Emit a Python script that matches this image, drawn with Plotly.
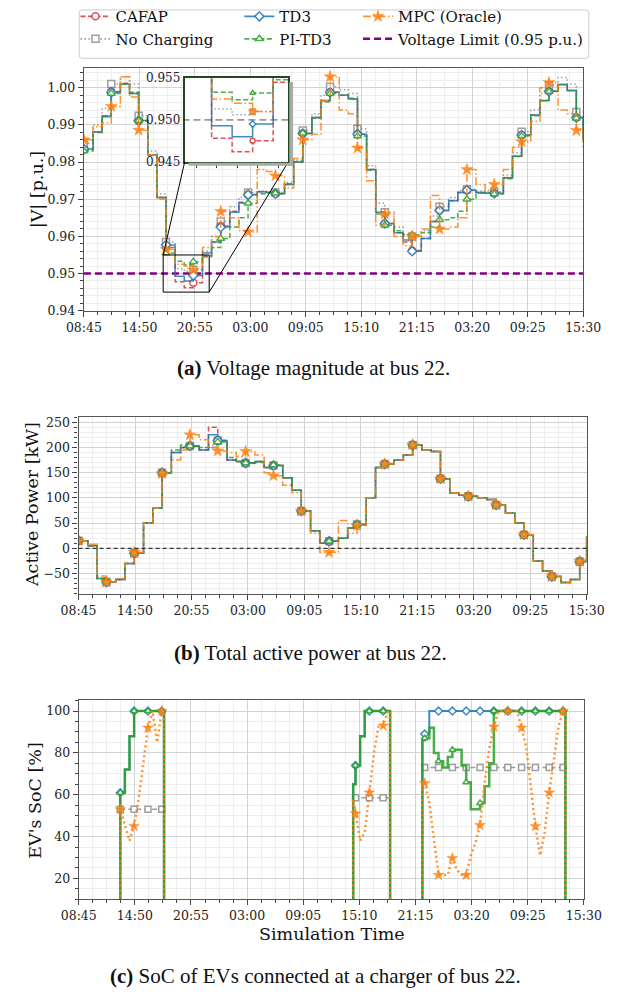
import pandas as pd
import plotly.graph_objects as go

# ---------------- data ----------------
# hours after 08:45 on day 1 (hourly samples, last one at 15:30 on day 3)
T_HOURS = list(range(55)) + [54.75]
TICK_LABELS = ["08:45", "14:50", "20:55", "03:00", "09:05", "15:10", "21:15", "03:20", "09:25", "15:30"]

V_NO_CHARGING = [0.9850, 0.9900, 0.9945, 1.0010, 1.0030, 1.0010, 0.9925, 0.9830, 0.9715, 0.9585,
                 0.9513, 0.9506, 0.9510, 0.9560, 0.9600, 0.9640, 0.9680, 0.9705, 0.9718, 0.9722,
                 0.9720, 0.9718, 0.9745, 0.9805, 0.9885, 0.9930, 0.9980, 1.0003, 0.9995, 0.9985,
                 0.9890, 0.9790, 0.9690, 0.9665, 0.9625, 0.9605, 0.9600, 0.9615, 0.9655, 0.9680,
                 0.9705, 0.9722, 0.9727, 0.9722, 0.9720, 0.9720, 0.9765, 0.9825, 0.9882, 0.9940,
                 0.9985, 1.0007, 1.0028, 1.0010, 0.9935, 0.9870]
V_CAFAP = [0.9835, 0.9880, 0.9925, 0.9990, 1.0012, 0.9985, 0.9910, 0.9820, 0.9705, 0.9570,
           0.9478, 0.9462, 0.9475, 0.9545, 0.9585, 0.9628, 0.9668, 0.9692, 0.9713, 0.9720,
           0.9718, 0.9715, 0.9740, 0.9800, 0.9877, 0.9920, 0.9966, 0.9988, 0.9980, 0.9970,
           0.9875, 0.9780, 0.9665, 0.9635, 0.9610, 0.9585, 0.9562, 0.9594, 0.9640, 0.9670,
           0.9696, 0.9718, 0.9724, 0.9718, 0.9716, 0.9716, 0.9758, 0.9816, 0.9873, 0.9927,
           0.9966, 0.9991, 1.0009, 0.9993, 0.9920, 0.9860]
V_TD3 = [0.9835, 0.9882, 0.9922, 0.9988, 1.0010, 0.9985, 0.9912, 0.9820, 0.9705, 0.9577,
         0.9493, 0.9480, 0.9495, 0.9555, 0.9585, 0.9625, 0.9665, 0.9690, 0.9712, 0.9720,
         0.9718, 0.9715, 0.9740, 0.9800, 0.9877, 0.9920, 0.9966, 0.9988, 0.9980, 0.9970,
         0.9875, 0.9780, 0.9665, 0.9635, 0.9610, 0.9590, 0.9560, 0.9594, 0.9640, 0.9670,
         0.9696, 0.9718, 0.9724, 0.9718, 0.9716, 0.9716, 0.9758, 0.9816, 0.9873, 0.9927,
         0.9966, 0.9991, 1.0009, 0.9993, 0.9920, 0.9860]
V_PI_TD3 = [0.9830, 0.9882, 0.9925, 0.9985, 1.0010, 0.9988, 0.9912, 0.9818, 0.9705, 0.9555,
            0.9533, 0.9524, 0.9532, 0.9548, 0.9570, 0.9594, 0.9625, 0.9650, 0.9689, 0.9715,
            0.9718, 0.9716, 0.9742, 0.9800, 0.9878, 0.9918, 0.9962, 0.9985, 0.9980, 0.9972,
            0.9870, 0.9778, 0.9660, 0.9630, 0.9615, 0.9605, 0.9604, 0.9610, 0.9625, 0.9645,
            0.9650, 0.9668, 0.9700, 0.9716, 0.9716, 0.9714, 0.9755, 0.9815, 0.9870, 0.9925,
            0.9965, 0.9990, 1.0008, 0.9993, 0.9918, 0.9855]
V_MPC = [0.9860, 0.9895, 0.9905, 0.9950, 1.0030, 0.9975, 0.9886, 0.9820, 0.9700, 0.9565,
         0.9525, 0.9520, 0.9510, 0.9570, 0.9600, 0.9667, 0.9650, 0.9615, 0.9612, 0.9780,
         0.9775, 0.9763, 0.9730, 0.9810, 0.9860, 0.9875, 0.9965, 1.0030, 0.9940, 0.9930,
         0.9838, 0.9750, 0.9630, 0.9660, 0.9600, 0.9575, 0.9600, 0.9620, 0.9710, 0.9620,
         0.9625, 0.9650, 0.9780, 0.9740, 0.9725, 0.9740, 0.9780, 0.9840, 0.9855, 0.9910,
         1.0000, 1.0014, 0.9940, 0.9930, 0.9885, 0.9840]
VOLTAGE_LIMIT = 0.95

P_NO_CHARGING = [15, 5, -60, -67, -62, -30, -10, 50, 80, 150,
                 190, 200, 203, 195, 205, 214, 175, 172, 169, 172,
                 160, 164, 140, 115, 74, 35, 10, 14, 20, 40,
                 47, 100, 160, 167, 175, 185, 205, 195, 192, 138,
                 110, 105, 103, 100, 97, 86, 70, 50, 27, -25,
                 -45, -56, -68, -62, -26, 24]
P_CAFAP = [15, 5, -60, -67, -62, -30, -10, 50, 80, 150,
           190, 200, 203, 195, 240, 214, 175, 172, 169, 172,
           160, 164, 140, 115, 74, 35, 10, 14, 20, 40,
           47, 100, 160, 167, 175, 185, 205, 195, 192, 138,
           110, 105, 103, 100, 97, 86, 70, 50, 27, -25,
           -45, -56, -68, -62, -26, 24]
P_TD3 = [15, 5, -60, -67, -62, -30, -10, 50, 80, 150,
         190, 200, 203, 195, 225, 214, 175, 172, 169, 172,
         160, 164, 140, 115, 74, 35, 10, 14, 20, 40,
         47, 100, 160, 167, 175, 185, 205, 195, 192, 138,
         110, 105, 103, 100, 97, 86, 70, 50, 27, -25,
         -45, -56, -68, -62, -26, 24]
P_PI_TD3 = [15, 5, -60, -67, -62, -30, -10, 50, 80, 150,
            195, 205, 203, 200, 200, 211, 180, 172, 169, 170,
            160, 165, 140, 115, 74, 35, 10, 14, 20, 40,
            47, 100, 160, 167, 175, 185, 205, 195, 192, 138,
            110, 105, 103, 100, 97, 86, 70, 50, 27, -25,
            -45, -56, -68, -62, -26, 24]
P_MPC = [15, 8, -55, -67, -60, -30, -8, 50, 80, 148,
         175, 195, 225, 215, 200, 193, 190, 182, 192, 185,
         150, 144, 125, 110, 74, 30, -8, -8, 55, 30,
         45, 100, 160, 167, 175, 185, 205, 195, 192, 138,
         110, 105, 103, 100, 97, 86, 70, 50, 27, -25,
         -45, -56, -68, -62, -26, 24]

# EV charging sessions (hours after 08:45 day 1, 30-min samples)
S1_T = [4.5, 5.0, 5.5, 6.0, 6.5, 7.0, 7.5, 8.0, 8.5, 9.0, 9.25]
S2_T = [29.75, 30.0, 30.5, 31.0, 31.5, 32.0, 32.5, 33.0, 33.5, 33.75]
S3_T = [37.25, 37.5, 38.0, 38.5, 39.0, 39.5, 40.0, 40.5, 41.0, 41.5, 42.0, 42.5, 43.0, 43.5,
        44.0, 44.5, 45.0, 45.5, 46.0, 46.5, 47.0, 47.5, 48.0, 48.5, 49.0, 49.5, 50.0, 50.5,
        51.0, 51.5, 52.0, 52.5, 52.75]
NO_EV_SOC = 0

SOC_NO_CHARGING_S1 = [53, 53, 53, 53, 53, 53, 53, 53, 53, 53, 53]
SOC_NO_CHARGING_S2 = [58.5, 58.5, 58.5, 58.5, 58.5, 58.5, 58.5, 58.5, 58.5, 58.5]
SOC_NO_CHARGING_S3 = [73, 73, 73, 73, 73, 73, 73, 73, 73, 73, 73, 73, 73, 73, 73, 73, 73,
                      73, 73, 73, 73, 73, 73, 73, 73, 73, 73, 73, 73, 73, 73, 73, 73]
SOC_TD3_S1 = [61, 72, 88, 100, 100, 100, 100, 100, 100, 100, 100]
SOC_TD3_S2 = [65, 74, 88, 100, 100, 100, 100, 100, 100, 100]
SOC_TD3_S3 = [87, 89, 100, 100, 100, 100, 100, 100, 100, 100, 100, 100, 100, 100, 100, 100, 100,
              100, 100, 100, 100, 100, 100, 100, 100, 100, 100, 100, 100, 100, 100, 100, 100]
SOC_PI_TD3_S1 = [61, 72, 88, 100, 100, 100, 100, 100, 100, 100, 100]
SOC_PI_TD3_S2 = [65, 74, 88, 100, 100, 100, 100, 100, 100, 100]
SOC_PI_TD3_S3 = [86, 87, 92, 80, 76, 73, 78, 81.5, 81.5, 74, 66, 53, 53, 56, 64, 75, 100,
                 100, 100, 100, 100, 100, 100, 100, 100, 100, 100, 100, 100, 100, 100, 100, 100]
SOC_MPC_S1 = [53, 45, 38, 45, 58, 75, 92, 100, 85, 100, 100]
SOC_MPC_S2 = [58, 51, 38, 42, 61, 80, 93, 93, 100, 100]
SOC_MPC_S3 = [66, 65.5, 56, 38, 21.6, 21.6, 21.6, 29.7, 24, 21.6, 21.6, 31, 37, 45.4, 66, 82, 92.5,
              100, 100, 100, 100, 100, 92, 83, 64, 45, 31, 42, 61, 77, 92.5, 100, 100]

for arr in (V_NO_CHARGING, V_CAFAP, V_TD3, V_PI_TD3, V_MPC, P_NO_CHARGING, P_CAFAP, P_TD3, P_PI_TD3, P_MPC):
    assert len(arr) == len(T_HOURS), len(arr)

# ---------------- helpers ----------------
W, H = 620, 1000
BASE = pd.Timestamp("2024-01-01 08:45")
T_END = 54.75
MAJOR_MS = 365 * 60 * 1000


def tt(hs):
    return [None if h is None else BASE + pd.Timedelta(hours=h) for h in hs]


def PX(x):
    return x / W


def PY(y):
    return 1 - y / H


FONT = "DejaVu Serif, serif"
CAP_FONT = "Liberation Serif, serif"

STY = {
    "No Charging": dict(color="rgba(127,127,127,0.75)", dash="1.5px,2.5px", symbol="square", legend="legend"),
    "CAFAP": dict(color="rgba(214,39,40,0.8)", dash="5px,2.5px", symbol="circle", legend="legend"),
    "TD3": dict(color="rgba(31,119,180,0.85)", dash="solid", symbol="diamond", legend="legend2"),
    "PI-TD3": dict(color="rgba(44,160,44,0.85)", dash="5px,2.5px", symbol="triangle-up", legend="legend2"),
    "MPC (Oracle)": dict(color="rgba(255,127,14,0.85)", dash="8px,2.5px,1.5px,2.5px", symbol="star", legend="legend3"),
}
DRAW_ORDER = ["No Charging", "CAFAP", "TD3", "PI-TD3", "MPC (Oracle)"]
V_DATA = {"No Charging": V_NO_CHARGING, "CAFAP": V_CAFAP, "TD3": V_TD3, "PI-TD3": V_PI_TD3, "MPC (Oracle)": V_MPC}
P_DATA = {"No Charging": P_NO_CHARGING, "CAFAP": P_CAFAP, "TD3": P_TD3, "PI-TD3": P_PI_TD3, "MPC (Oracle)": P_MPC}
SOC_DATA = {
    "No Charging": [SOC_NO_CHARGING_S1, SOC_NO_CHARGING_S2, SOC_NO_CHARGING_S3],
    "TD3": [SOC_TD3_S1, SOC_TD3_S2, SOC_TD3_S3],
    "PI-TD3": [SOC_PI_TD3_S1, SOC_PI_TD3_S2, SOC_PI_TD3_S3],
    "MPC (Oracle)": [SOC_MPC_S1, SOC_MPC_S2, SOC_MPC_S3],
}
SESSIONS_T = [S1_T, S2_T, S3_T]


def mk(name, size):
    s = STY[name]
    if name == "MPC (Oracle)":
        return dict(symbol="star", size=size + 2, color=s["color"], line=dict(width=0.5, color=s["color"]))
    return dict(symbol=s["symbol"], size=size, color="white", line=dict(width=1.5, color=s["color"]))


fig = go.Figure()

# ---------- legend entries ----------
for name in ["CAFAP", "No Charging", "TD3", "PI-TD3", "MPC (Oracle)"]:
    s = STY[name]
    fig.add_trace(go.Scatter(x=[None], y=[None], mode="lines+markers", name=name,
                             line=dict(color=s["color"], dash=s["dash"], width=1.8),
                             marker=mk(name, 7), legend=s["legend"], xaxis="x", yaxis="y"))
fig.add_trace(go.Scatter(x=[None], y=[None], mode="lines", name="Voltage Limit (0.95 p.u.)",
                         line=dict(color="#800080", dash="7px,4px", width=2.5), legend="legend3",
                         xaxis="x", yaxis="y"))

mark_idx = [i for i, h in enumerate(T_HOURS) if h % 3 == 0]

# ---------- panel (a) + inset ----------
for xa, ya, limcol in (("x", "y", "#800080"), ("x4", "y4", "#999999")):
    fig.add_trace(go.Scatter(x=tt([0, T_END]), y=[VOLTAGE_LIMIT, VOLTAGE_LIMIT], mode="lines",
                             line=dict(color=limcol, dash="7px,4px", width=2.5 if xa == "x" else 1.8),
                             showlegend=False, xaxis=xa, yaxis=ya, hoverinfo="skip"))
    for name in DRAW_ORDER:
        s = STY[name]
        vals = V_DATA[name]
        fig.add_trace(go.Scatter(x=tt(T_HOURS), y=vals, mode="lines", line_shape="hv",
                                 line=dict(color=s["color"], dash=s["dash"], width=1.5),
                                 showlegend=False, xaxis=xa, yaxis=ya))
        fig.add_trace(go.Scatter(x=tt([T_HOURS[i] for i in mark_idx]), y=[vals[i] for i in mark_idx],
                                 mode="markers", marker=mk(name, 7 if xa == "x" else 5),
                                 showlegend=False, xaxis=xa, yaxis=ya))

# ---------- panel (b) ----------
for name in DRAW_ORDER:
    s = STY[name]
    vals = P_DATA[name]
    fig.add_trace(go.Scatter(x=tt(T_HOURS), y=vals, mode="lines", line_shape="hv",
                             line=dict(color=s["color"], dash=s["dash"], width=1.5),
                             showlegend=False, xaxis="x2", yaxis="y2"))
    fig.add_trace(go.Scatter(x=tt([T_HOURS[i] for i in mark_idx]), y=[vals[i] for i in mark_idx],
                             mode="markers", marker=mk(name, 7),
                             showlegend=False, xaxis="x2", yaxis="y2"))

# ---------- panel (c) ----------
C_WIDTH = {"No Charging": 1.5, "TD3": 2.0, "PI-TD3": 2.5, "MPC (Oracle)": 2.5}
C_DASH = {"No Charging": "5px,3px", "TD3": "solid", "PI-TD3": "solid", "MPC (Oracle)": "2px,3px"}
for name in ["No Charging", "TD3", "PI-TD3", "MPC (Oracle)"]:
    s = STY[name]
    xs, ys, mx, my = [], [], [], []
    if name == "No Charging":
        for tlist, vlist in zip(SESSIONS_T, SOC_DATA[name]):
            xs += tlist + [None]
            ys += vlist + [None]
    else:
        xs, ys = [0.0], [NO_EV_SOC]
        for tlist, vlist in zip(SESSIONS_T, SOC_DATA[name]):
            xs += [tlist[0]] + tlist + [tlist[-1]]
            ys += [NO_EV_SOC] + vlist + [NO_EV_SOC]
        xs += [T_END]
        ys += [NO_EV_SOC]
    for tlist, vlist in zip(SESSIONS_T, SOC_DATA[name]):
        for t, v in zip(tlist, vlist):
            if abs(t / 1.5 - round(t / 1.5)) < 1e-9:
                mx.append(t)
                my.append(v)
    fig.add_trace(go.Scatter(x=tt(xs), y=ys, mode="lines",
                             line_shape="linear" if name == "MPC (Oracle)" else "hv",
                             line=dict(color=s["color"], dash=C_DASH[name], width=C_WIDTH[name]),
                             connectgaps=False, showlegend=False, xaxis="x3", yaxis="y3"))
    fig.add_trace(go.Scatter(x=tt(mx), y=my, mode="markers", marker=mk(name, 6),
                             showlegend=False, xaxis="x3", yaxis="y3"))

# ---------------- layout ----------------
DOM_A_X, DOM_A_Y = [PX(70), PX(600)], [PY(308), PY(62)]
DOM_B_X, DOM_B_Y = [PX(64.3), PX(603.7)], [PY(595), PY(416)]
DOM_C_X, DOM_C_Y = [PX(64.5), PX(600.7)], [PY(905), PY(703)]
DOM_I_X, DOM_I_Y = [PX(177), PX(287)], [PY(157), PY(72)]
YA = [0.94, 1.0053]
INSET_H = [8.69, 13.74]
INSET_V = [0.945, 0.955]

FRAME = dict(showline=True, mirror=True, linecolor="#555555", linewidth=1.3, zeroline=False,
             ticks="outside", ticklen=5, tickwidth=1, tickcolor="#444444",
             showgrid=True, gridcolor="#d3d3d3", gridwidth=1,
             tickfont=dict(family=FONT, size=12.5, color="#222222"))


def xcfg(domain, anchor):
    return dict(domain=domain, anchor=anchor, type="date", range=tt([0, T_END]),
                tickmode="linear", tick0=BASE.strftime("%Y-%m-%d %H:%M"), dtick=MAJOR_MS,
                tickformat="%H:%M", ticklabeloverflow="allow",
                minor=dict(tick0=BASE.strftime("%Y-%m-%d %H:%M"), dtick=MAJOR_MS / 4, ticks="outside",
                           ticklen=3, tickcolor="#444444", showgrid=True, gridcolor="#eeeeee", gridwidth=0.8),
                **FRAME)


def ycfg(domain, anchor, rng, dtick, minor, fmt=None, tick0=0):
    d = dict(domain=domain, anchor=anchor, range=rng, tickmode="linear", tick0=tick0, dtick=dtick,
             minor=dict(tick0=tick0, dtick=minor, ticks="outside", ticklen=3, tickcolor="#444444",
                        showgrid=True, gridcolor="#eeeeee", gridwidth=0.8),
             **FRAME)
    if fmt:
        d["tickformat"] = fmt
    return d


leg_common = dict(orientation="v", xanchor="left", yanchor="top", bgcolor="rgba(0,0,0,0)",
                  borderwidth=0, font=dict(family=FONT, size=15, color="#111111"), tracegroupgap=0)


def a_px(h):
    return DOM_A_X[0] + h / T_END * (DOM_A_X[1] - DOM_A_X[0])


def a_py(v):
    return DOM_A_Y[0] + (v - YA[0]) / (YA[1] - YA[0]) * (DOM_A_Y[1] - DOM_A_Y[0])


r = 3
lx0, lx1, ly0, ly1 = 65, 606, 3, 52
legend_box = (f"M{PX(lx0 + r)},{PY(ly0)} L{PX(lx1 - r)},{PY(ly0)} Q{PX(lx1)},{PY(ly0)} {PX(lx1)},{PY(ly0 + r)} "
              f"L{PX(lx1)},{PY(ly1 - r)} Q{PX(lx1)},{PY(ly1)} {PX(lx1 - r)},{PY(ly1)} "
              f"L{PX(lx0 + r)},{PY(ly1)} Q{PX(lx0)},{PY(ly1)} {PX(lx0)},{PY(ly1 - r)} "
              f"L{PX(lx0)},{PY(ly0 + r)} Q{PX(lx0)},{PY(ly0)} {PX(lx0 + r)},{PY(ly0)} Z")

shapes = [
    dict(type="path", path=legend_box, xref="paper", yref="paper", line=dict(color="#cccccc", width=1),
         fillcolor="white", layer="below"),
    # zoom rectangle
    dict(type="rect", xref="x", yref="y", x0=tt([INSET_H[0]])[0], x1=tt([INSET_H[1]])[0],
         y0=INSET_V[0], y1=INSET_V[1], line=dict(color="black", width=1), layer="above"),
    # connectors
    dict(type="line", xref="paper", yref="paper", x0=a_px(INSET_H[0]), y0=a_py(INSET_V[1]),
         x1=DOM_I_X[0], y1=DOM_I_Y[0], line=dict(color="black", width=1), layer="above"),
    dict(type="line", xref="paper", yref="paper", x0=a_px(INSET_H[1]), y0=a_py(INSET_V[0]),
         x1=DOM_I_X[1], y1=DOM_I_Y[0], line=dict(color="black", width=1), layer="above"),
    # inset shadow
    dict(type="rect", xref="paper", yref="paper", x0=PX(288), x1=PX(292), y0=PY(161), y1=PY(76),
         fillcolor="#aaaaaa", line=dict(width=0), layer="above"),
    dict(type="rect", xref="paper", yref="paper", x0=PX(181), x1=PX(292), y0=PY(161), y1=PY(158),
         fillcolor="#aaaaaa", line=dict(width=0), layer="above"),
    # zero line panel b
    dict(type="line", xref="x2 domain", yref="y2", x0=0, x1=1, y0=0, y1=0,
         line=dict(color="#333333", width=1.3, dash="4px,3px"), layer="above"),
]

TITLE_FONT = dict(family=FONT, size=17.5, color="#111111")
CAP = dict(family=CAP_FONT, size=21, color="#111111")
annotations = [
    dict(text="|V| [p.u.]", x=PX(21), y=PY(185), textangle=-90, font=TITLE_FONT),
    dict(text="Active Power [kW]", x=PX(15), y=PY(505), textangle=-90, font=TITLE_FONT),
    dict(text="EV's SoC [%]", x=PX(18), y=PY(804), textangle=-90, font=TITLE_FONT),
    dict(text="Simulation Time", x=PX(333), y=PY(940), font=TITLE_FONT),
    dict(text="<b>(a)</b> Voltage magnitude at bus 22.", x=PX(314), y=PY(366), font=CAP),
    dict(text="<b>(b)</b> Total active power at bus 22.", x=PX(310), y=PY(655), font=CAP),
    dict(text="<b>(c)</b> SoC of EVs connected at a charger of bus 22.", x=PX(316), y=PY(983), font=CAP),
]
for a in annotations:
    a.update(xref="paper", yref="paper", showarrow=False, xanchor="center", yanchor="middle")

inset_x = dict(domain=DOM_I_X, anchor="y4", type="date", range=tt(INSET_H), showgrid=False, zeroline=False,
               showline=True, mirror=True, linecolor="#1f4a1f", linewidth=2, ticks="outside", ticklen=4,
               tickcolor="#333333", tickmode="linear", tick0=(BASE + pd.Timedelta(hours=9.25)).strftime("%Y-%m-%d %H:%M"),
               dtick=3600000, showticklabels=False)
inset_y = dict(domain=DOM_I_Y, anchor="x4", range=INSET_V, showgrid=False, zeroline=False,
               showline=True, mirror=True, linecolor="#1f4a1f", linewidth=2, ticks="",
               tickmode="array", tickvals=[0.945, 0.950, 0.955], ticktext=["0.945", "0.950", "0.955"],
               tickfont=dict(family=FONT, size=12, color="#222222"))

fig.update_layout(
    width=W, height=H, autosize=False, margin=dict(l=0, r=0, t=0, b=0),
    paper_bgcolor="white", plot_bgcolor="white",
    xaxis=xcfg(DOM_A_X, "y"), yaxis=ycfg(DOM_A_Y, "x", YA, 0.01, 0.002, ".2f"),
    xaxis2=xcfg(DOM_B_X, "y2"), yaxis2=ycfg(DOM_B_Y, "x2", [-90, 260], 50, 10),
    xaxis3=xcfg(DOM_C_X, "y3"), yaxis3=ycfg(DOM_C_Y, "x3", [10, 105.2], 20, 5),
    xaxis4=inset_x, yaxis4=inset_y,
    legend=dict(x=PX(61), y=PY(-7), **leg_common),
    legend2=dict(x=PX(235), y=PY(-7), **leg_common),
    legend3=dict(x=PX(361), y=PY(-7), **leg_common),
    shapes=shapes, annotations=annotations, showlegend=True,
)

fig.write_html("out.html")
